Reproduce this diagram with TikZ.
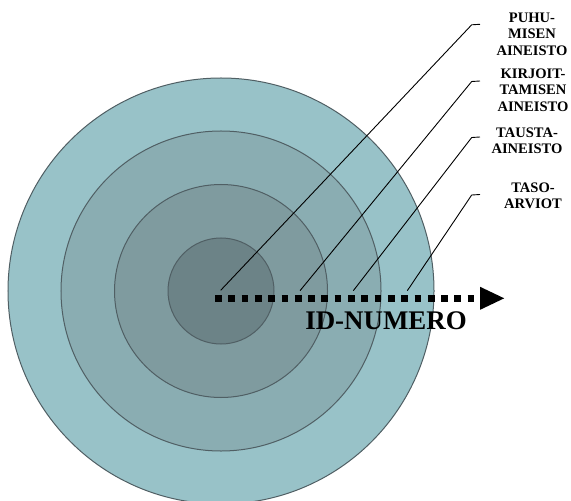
\documentclass[tikz,border=0pt]{standalone}
\usepackage{fontspec}
\setmainfont{Liberation Serif}
\usetikzlibrary{arrows.meta}
\definecolor{ringA}{HTML}{98C2C8}
\definecolor{ringB}{HTML}{8AADB2}
\definecolor{ringC}{HTML}{7F9B9F}
\definecolor{ringD}{HTML}{6C8387}
\definecolor{ringline}{HTML}{505F64}
\tikzset{
  ring/.style={circle, draw=ringline, line width=1bp, inner sep=0pt},
  leader/.style={draw=black, line width=0.9bp},
  lbl/.style={font=\fontsize{14.6}{16.8}\selectfont\bfseries, align=center, inner sep=0pt},
  idlabel/.style={font=\fontsize{27}{30}\selectfont\bfseries, inner sep=0pt},
  idarrow/.style={line width=7bp, dash pattern=on 6.7bp off 6.6bp,
    -{Triangle[length=25bp,width=21bp]}}
}
\begin{document}
\begin{tikzpicture}[x=1bp,y=-1bp]
\useasboundingbox (0,0) rectangle (571,501);
% rings
\node[ring, fill=ringA, minimum size=426bp] (r4) at (221,291) {};
\node[ring, fill=ringB, minimum size=320bp] (r3) at (221,291) {};
\node[ring, fill=ringC, minimum size=213bp] (r2) at (221,291) {};
\node[ring, fill=ringD, minimum size=106bp] (r1) at (221,291) {};
% labels
\node[lbl] (l1) at (532,34.3) {PUHU-\\MISEN\\AINEISTO};
\node[lbl] (l2) at (533,90) {KIRJOIT-\\TAMISEN\\AINEISTO};
\node[lbl] (l3) at (527,140.8) {TAUSTA-\\AINEISTO};
\node[lbl] (l4) at (533,195.8) {TASO-\\ARVIOT};
\node[idlabel] (id) at (386,320.5) {ID-NUMERO};
% leader line coordinates
\coordinate (s1) at (220.7,290.3);
\coordinate (k1) at (471.7,24.8);
\coordinate (e1) at (480,24.3);
\coordinate (s2) at (300,290.7);
\coordinate (k2) at (471.7,81.5);
\coordinate (e2) at (480,81);
\coordinate (s3) at (353.3,290.7);
\coordinate (k3) at (471.7,137.5);
\coordinate (e3) at (480,137);
\coordinate (s4) at (407.3,290.7);
\coordinate (k4) at (471.7,195);
\coordinate (e4) at (480,194.5);
\draw[leader] (s1) -- (k1) -- (e1);
\draw[leader] (s2) -- (k2) -- (e2);
\draw[leader] (s3) -- (k3) -- (e3);
\draw[leader] (s4) -- (k4) -- (e4);
% ID arrow
\coordinate (a0) at (215,298.3);
\coordinate (a1) at (505,298.3);
\draw[idarrow] (a0) -- (a1);
\end{tikzpicture}
\end{document}
